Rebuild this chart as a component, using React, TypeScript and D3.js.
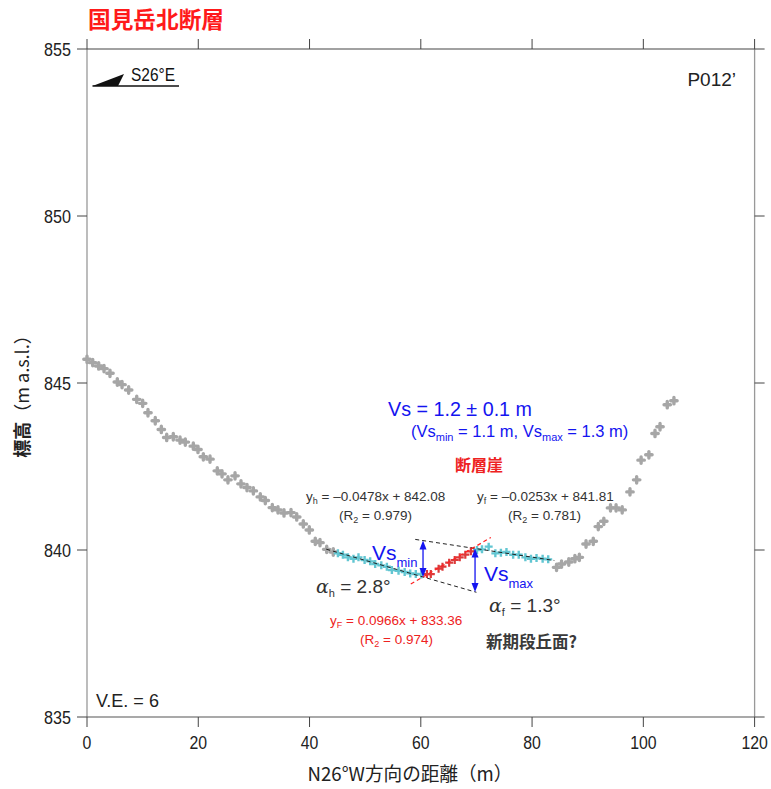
import React from "react";
import * as d3 from "d3";

// ---- data ----
const grayLeftX = [0.0, 1.03, 2.1, 3.06, 4.13, 5.45, 6.3, 7.49, 8.94, 10.01, 10.96, 12.27, 13.36, 14.33, 15.51, 16.72, 17.67, 19.11, 19.95, 20.91, 22.11, 23.42, 24.27, 25.34, 26.61, 27.68, 28.76, 29.9, 31.15, 32.05, 33.31, 34.33, 35.41, 36.67, 37.7, 38.88, 39.96, 41.03, 41.88, 43.09, 44.27];
const grayLeftY = [845.71, 845.61, 845.51, 845.43, 845.29, 845.03, 844.95, 844.79, 844.51, 844.39, 844.11, 843.87, 843.61, 843.37, 843.39, 843.29, 843.23, 843.11, 843.01, 842.79, 842.72, 842.37, 842.28, 842.1, 842.22, 841.98, 841.87, 841.77, 841.59, 841.48, 841.27, 841.2, 841.11, 841.12, 840.99, 840.78, 840.6, 840.26, 840.22, 840.02, 839.94];
const hangX = [45.1, 46.0, 46.9, 47.9, 48.8, 49.9, 50.9, 51.8, 52.9, 53.9, 54.8, 56.0, 57.1, 58.1, 59.1, 60.1];
const hangY = [839.9, 839.86, 839.78, 839.74, 839.78, 839.7, 839.66, 839.58, 839.54, 839.5, 839.4, 839.38, 839.34, 839.3, 839.28, 839.27];
const scarpX = [61.1, 61.8, 63.2, 63.9, 65.1, 66.1, 67.0, 68.0, 69.0];
const scarpY = [839.28, 839.28, 839.44, 839.5, 839.62, 839.7, 839.78, 839.86, 839.96];
const footX = [70.1, 71.0, 72.2, 73.4, 74.4, 75.4, 76.6, 77.6, 78.8, 79.8, 80.8, 81.9, 82.9];
const footY = [840.0, 840.02, 840.1, 839.9, 839.92, 839.94, 839.86, 839.86, 839.78, 839.74, 839.76, 839.74, 839.72];
const grayRightX = [84.4, 85.3, 86.6, 87.7, 88.5, 89.7, 91.0, 91.9, 92.9, 94.1, 95.1, 96.2, 97.6, 98.8, 99.6, 101.0, 102.1, 103.0, 104.3, 105.5];
const grayRightY = [839.48, 839.58, 839.64, 839.74, 839.78, 840.18, 840.26, 840.7, 840.86, 841.26, 841.26, 841.2, 841.74, 842.1, 842.69, 842.85, 843.49, 843.69, 844.35, 844.47];

// regression fits: [slope, intercept, xStart, xEnd]
const hangFit = [-0.0478, 842.08, 43, 70];
const footFit = [-0.0253, 841.81, 59, 84];
const scarpFit = [0.0966, 833.36, 58.2, 72.6];
const vsArrowX = [60.4, 69.75];

const xTicks = [0, 20, 40, 60, 80, 100, 120];
const yTicks = [835, 840, 845, 850, 855];

const W = 771, H = 789;
const SANS = "'Liberation Sans', Arial, sans-serif";
const CJK = "'Noto Sans CJK JP', 'Noto Sans', sans-serif";
const TXT = "#333";
const BLUE = "#1414f0";
const RED = "#ee2222";

export default function App() {
  const x = d3.scaleLinear().domain([0, 120]).range([87, 754.6]);
  const y = d3.scaleLinear().domain([835, 855]).range([717, 49]);
  const [x0, x1] = x.range();
  const [yb, yt] = y.range();

  const plus = (cx: number, cy: number, r: number) => `M${cx - r},${cy}H${cx + r}M${cx},${cy - r}V${cy + r}`;
  const fitLine = (f: number[]) => {
    const g = d3.line<number>().x((v) => x(v)).y((v) => y(f[0] * v + f[1]));
    return g([f[2], f[3]]) || "";
  };

  const grayPts = [...grayLeftX.map((v, i) => [v, grayLeftY[i]]), ...grayRightX.map((v, i) => [v, grayRightY[i]])];
  const cyanPts = [...hangX.map((v, i) => [v, hangY[i]]), ...footX.map((v, i) => [v, footY[i]])];
  const redPts = scarpX.map((v, i) => [v, scarpY[i]]);

  const arrow = (ax: number, key: string) => {
    const yTop = y(footFit[0] * ax + footFit[1]);
    const yBot = y(hangFit[0] * ax + hangFit[1]);
    const px = x(ax);
    return (
      <g key={key}>
        <line x1={px} x2={px} y1={yTop + 6} y2={yBot - 6} stroke={BLUE} strokeWidth={1.3} />
        <path d={`M${px},${yTop}L${px - 3.5},${yTop + 9}L${px + 3.5},${yTop + 9}Z`} fill={BLUE} />
        <path d={`M${px},${yBot}L${px - 3.5},${yBot - 9}L${px + 3.5},${yBot - 9}Z`} fill={BLUE} />
      </g>
    );
  };

  return (
    <svg width={W} height={H} style={{ position: "absolute", left: 0, top: 0 }}>
      <rect width={W} height={H} fill="#fff" />
      {/* title */}
      <text x={88} y={28} fill="#ff1a1a" fontFamily={CJK} fontWeight="bold" fontSize={22.5} textLength={136} lengthAdjust="spacingAndGlyphs">国見岳北断層</text>

      {/* frame */}
      <line x1={x0} x2={x0} y1={yt} y2={yb} stroke="#999" strokeWidth={1.3} />
      <line x1={x1} x2={x1} y1={yt} y2={yb} stroke="#999" strokeWidth={1.3} />
      <line x1={x0} x2={x1} y1={yt} y2={yt} stroke="#444" strokeWidth={1.1} />
      <line x1={x0} x2={x1} y1={yb} y2={yb} stroke="#555" strokeWidth={1.1} />
      {xTicks.map((t) => (
        <g key={"xt" + t}>
          <line x1={x(t)} x2={x(t)} y1={yb} y2={yb + 10} stroke="#444" />
          <line x1={x(t)} x2={x(t)} y1={yt} y2={yt - 10} stroke="#444" />
          <text x={x(t)} y={yb + 32} textAnchor="middle" fontFamily={SANS} fontSize={18} fill="#222" textLength={String(t).length * 8.8} lengthAdjust="spacingAndGlyphs">{t}</text>
        </g>
      ))}
      {yTicks.map((t) => (
        <g key={"yt" + t}>
          <line x1={x0 - 10} x2={x0} y1={y(t)} y2={y(t)} stroke="#444" />
          <line x1={x1} x2={x1 + 10} y1={y(t)} y2={y(t)} stroke="#444" />
          <text x={x0 - 16} y={y(t) + 6.5} textAnchor="end" fontFamily={SANS} fontSize={18} fill="#222" textLength={27} lengthAdjust="spacingAndGlyphs">{t}</text>
        </g>
      ))}

      {/* axis labels */}
      <text x={410} y={781} textAnchor="middle" fontFamily={CJK} fontSize={19} fill="#222" textLength={205} lengthAdjust="spacingAndGlyphs">N26°W方向の距離（m）</text>
      <text transform="translate(29,392) rotate(-90)" textAnchor="middle" fontFamily={CJK} fontSize={18} fill="#222">
        <tspan fontWeight="bold">標高</tspan>（m a.s.l.）
      </text>

      {/* direction arrow */}
      <path d="M92.5,86L124,74L118,86Z" fill="#111" />
      <line x1={92.5} x2={179} y1={86} y2={86} stroke="#111" strokeWidth={1.4} />
      <text x={131} y={81} fontFamily={SANS} fontSize={18} fill="#111" textLength={44} lengthAdjust="spacingAndGlyphs">S26°E</text>
      <text x={736} y={86} textAnchor="end" fontFamily={SANS} fontSize={19} fill="#222">P012’</text>
      <text x={96} y={707} fontFamily={SANS} fontSize={18} fill="#222">V.E. = 6</text>

      {/* points */}
      {grayPts.map((p, i) => (
        <path key={"g" + i} d={plus(x(p[0]), y(p[1]), 3.2)} stroke="#a6a6a6" strokeWidth={3.4} strokeLinecap="round" fill="none" />
      ))}
      {cyanPts.map((p, i) => (
        <path key={"c" + i} d={plus(x(p[0]), y(p[1]), 4)} stroke="#62c6d2" strokeWidth={2.4} fill="none" />
      ))}
      {redPts.map((p, i) => (
        <path key={"r" + i} d={plus(x(p[0]), y(p[1]), 4)} stroke="#dd3a3a" strokeWidth={2.2} fill="none" />
      ))}

      {/* fits */}
      <path d={fitLine(hangFit)} stroke="#222" strokeWidth={1} strokeDasharray="4,3" fill="none" />
      <path d={fitLine(footFit)} stroke="#222" strokeWidth={1} strokeDasharray="4,3" fill="none" />
      <path d={fitLine(scarpFit)} stroke="#ff2020" strokeWidth={1.2} strokeDasharray="4,3" fill="none" />

      {vsArrowX.map((a, i) => arrow(a, "a" + i))}

      {/* annotations */}
      <text x={372} y={560} fontFamily={SANS} fontSize={21} fill={BLUE}>Vs<tspan fontSize={13} dy={7}>min</tspan></text>
      <text x={484} y={581} fontFamily={SANS} fontSize={21} fill={BLUE}>Vs<tspan fontSize={13} dy={7}>max</tspan></text>

      <text x={388} y={416} fontFamily={SANS} fontSize={19.5} fill={BLUE} textLength={144} lengthAdjust="spacingAndGlyphs">Vs = 1.2 ± 0.1 m</text>
      <text x={411} y={437} fontFamily={SANS} fontSize={16.5} fill={BLUE}>
        (Vs<tspan fontSize={11} dy={4}>min</tspan><tspan dy={-4}> = 1.1 m, Vs</tspan><tspan fontSize={11} dy={4}>max</tspan><tspan dy={-4}> = 1.3 m)</tspan>
      </text>
      <text x={479} y={471} textAnchor="middle" fontFamily={CJK} fontWeight="bold" fontSize={16} fill={RED}>断層崖</text>

      <text x={306} y={501} fontFamily={SANS} fontSize={13.5} fill={TXT}>
        y<tspan fontSize={9} dy={3}>h</tspan><tspan dy={-3}> = –0.0478x + 842.08</tspan>
      </text>
      <text x={339} y={520} fontFamily={SANS} fontSize={13.5} fill={TXT}>
        (R<tspan fontSize={9} dy={3}>2</tspan><tspan dy={-3}> = 0.979)</tspan>
      </text>
      <text x={477} y={501} fontFamily={SANS} fontSize={13.5} fill={TXT}>
        y<tspan fontSize={9} dy={3}>f</tspan><tspan dy={-3}> = –0.0253x + 841.81</tspan>
      </text>
      <text x={508} y={520} fontFamily={SANS} fontSize={13.5} fill={TXT}>
        (R<tspan fontSize={9} dy={3}>2</tspan><tspan dy={-3}> = 0.781)</tspan>
      </text>

      <text x={316} y={593} fontFamily={SANS} fontSize={19} fill={TXT}>
        <tspan fontFamily="'DejaVu Serif', serif" fontStyle="italic">α</tspan><tspan fontSize={11} dy={4}>h</tspan><tspan dy={-4}> = 2.8°</tspan>
      </text>
      <text x={489} y={612} fontFamily={SANS} fontSize={19} fill={TXT}>
        <tspan fontFamily="'DejaVu Serif', serif" fontStyle="italic">α</tspan><tspan fontSize={11} dy={4}>f</tspan><tspan dy={-4}> = 1.3°</tspan>
      </text>

      <text x={330} y={625} fontFamily={SANS} fontSize={13.5} fill={RED}>
        y<tspan fontSize={9} dy={3}>F</tspan><tspan dy={-3}> = 0.0966x + 833.36</tspan>
      </text>
      <text x={360} y={644} fontFamily={SANS} fontSize={13.5} fill={RED}>
        (R<tspan fontSize={9} dy={3}>2</tspan><tspan dy={-3}> = 0.974)</tspan>
      </text>
      <text x={486} y={648} fontFamily={CJK} fontWeight="bold" fontSize={16.5} fill="#3a3a3a">新期段丘面?</text>
    </svg>
  );
}
